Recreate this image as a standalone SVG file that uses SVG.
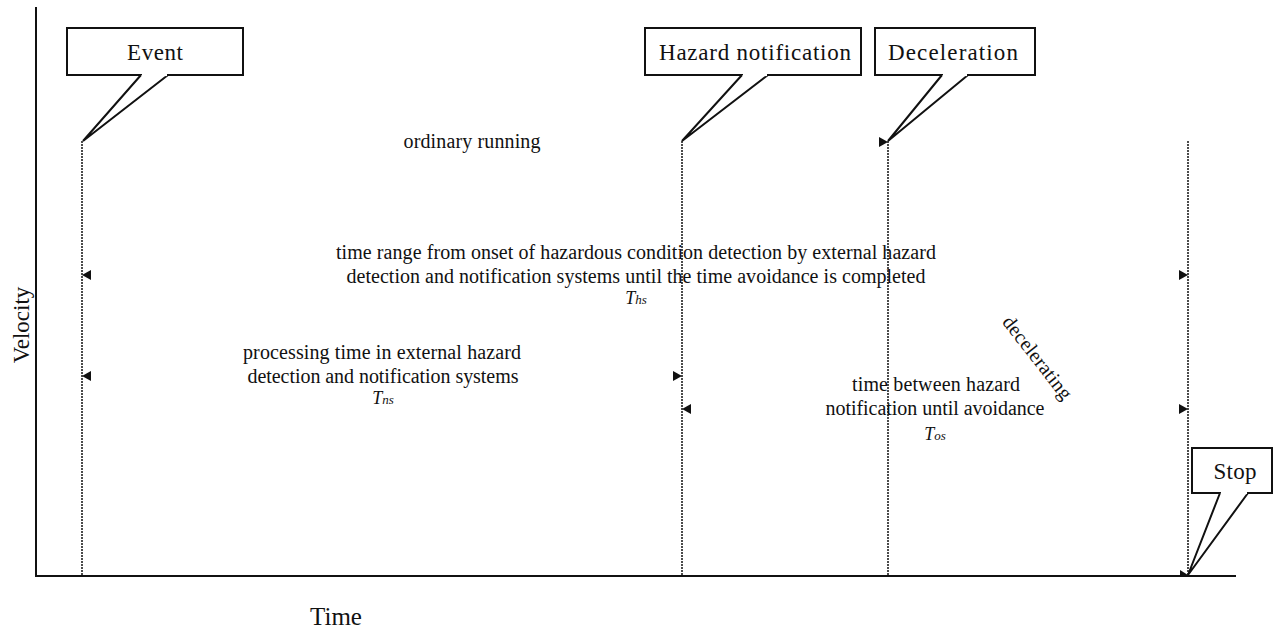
<svg xmlns="http://www.w3.org/2000/svg" width="1275" height="633" viewBox="0 0 1275 633">
<style>
text{font-family:"Liberation Serif","DejaVu Serif",serif;fill:#111;}
.t{font-size:20px;text-anchor:middle;}
.lbl{font-size:23px;text-anchor:middle;}
.it{font-style:italic;font-size:18px;text-anchor:middle;}
.box{fill:#fff;stroke:#111;stroke-width:2;}
.ptr{fill:#fff;stroke:#111;stroke-width:2;stroke-linejoin:miter;}
.axis{stroke:#111;stroke-width:2;fill:none;}
.dot{stroke:#111;stroke-width:1.5;stroke-dasharray:2 1;fill:none;}
.ah{fill:#111;}
</style>
<rect width="1275" height="633" fill="#fff"/>
<g id="axes">
<line class="axis" x1="36" y1="7" x2="36" y2="576"/>
<line class="axis" x1="35" y1="576" x2="1236" y2="576"/>
<text x="22" y="325" font-size="23" text-anchor="middle" transform="rotate(-90 22 325)" dy="7">Velocity</text>
<text x="336" y="625" font-size="25" text-anchor="middle">Time</text>
</g>
<g id="connectors">
<line class="dot" x1="82" y1="141" x2="82" y2="576"/>
<line class="dot" x1="682" y1="141" x2="682" y2="576"/>
<line class="dot" x1="888" y1="141" x2="888" y2="576"/>
<line class="dot" x1="1188" y1="141" x2="1188" y2="576"/>
<polygon class="ah" points="888,142 879,137 879,147"/>
<polygon class="ah" points="82,275 91,270 91,280"/>
<polygon class="ah" points="1188,275 1179,270 1179,280"/>
<polygon class="ah" points="82,376 91,371 91,381"/>
<polygon class="ah" points="682,376 673,371 673,381"/>
<polygon class="ah" points="682,409 691,404 691,414"/>
<polygon class="ah" points="1188,409 1179,404 1179,414"/>
<polygon class="ah" points="1188,575 1180,570 1180,576"/>
</g>
<g id="event">
<rect class="box" x="67" y="28" width="176" height="47"/>
<polyline class="ptr" points="141,75 83,141 168,75"/>
<line x1="142" y1="75" x2="167" y2="75" stroke="#fff" stroke-width="2.2"/>
<text class="lbl" x="155" y="60" textLength="56">Event</text>
</g>
<g id="hazard-notification">
<rect class="box" x="645" y="28" width="216" height="47"/>
<polyline class="ptr" points="742,75 682,141 768,75"/>
<line x1="743" y1="75" x2="767" y2="75" stroke="#fff" stroke-width="2.2"/>
<text class="lbl" x="755" y="60" textLength="192">Hazard notification</text>
</g>
<g id="deceleration">
<rect class="box" x="875" y="28" width="160" height="47"/>
<polyline class="ptr" points="942,75 888,141 968,75"/>
<line x1="943" y1="75" x2="967" y2="75" stroke="#fff" stroke-width="2.2"/>
<text class="lbl" x="953" y="60" textLength="130">Deceleration</text>
</g>
<g id="stop">
<rect class="box" x="1192" y="448" width="80" height="45"/>
<polyline class="ptr" points="1220,493 1188,575 1248,493"/>
<line x1="1221" y1="493" x2="1247" y2="493" stroke="#fff" stroke-width="2.2"/>
<text class="lbl" x="1235" y="479" textLength="43">Stop</text>
</g>
<g id="ordinary-running">
<text class="t" x="472" y="148" textLength="137">ordinary running</text>
</g>
<g id="ths-label">
<text class="t" x="636" y="259" textLength="600">time range from onset of hazardous condition detection by external hazard</text>
<text class="t" x="636" y="283" textLength="579">detection and notification systems until the time avoidance is completed</text>
<text class="it" x="636" y="304">T<tspan font-size="13">hs</tspan></text>
</g>
<g id="tns-label">
<text class="t" x="382" y="359" textLength="278">processing time in external hazard</text>
<text class="t" x="383" y="383" textLength="271">detection and notification systems</text>
<text class="it" x="383" y="404">T<tspan font-size="13">ns</tspan></text>
</g>
<g id="tos-label">
<text class="t" x="936" y="391" textLength="168">time between hazard</text>
<text class="t" x="935" y="415" textLength="219">notification until avoidance</text>
<text class="it" x="935" y="440">T<tspan font-size="13">os</tspan></text>
</g>
<g id="decelerating">
<text class="t" x="1037" y="358" dy="6" transform="rotate(52 1037 358)" textLength="100">decelerating</text>
</g>
</svg>
